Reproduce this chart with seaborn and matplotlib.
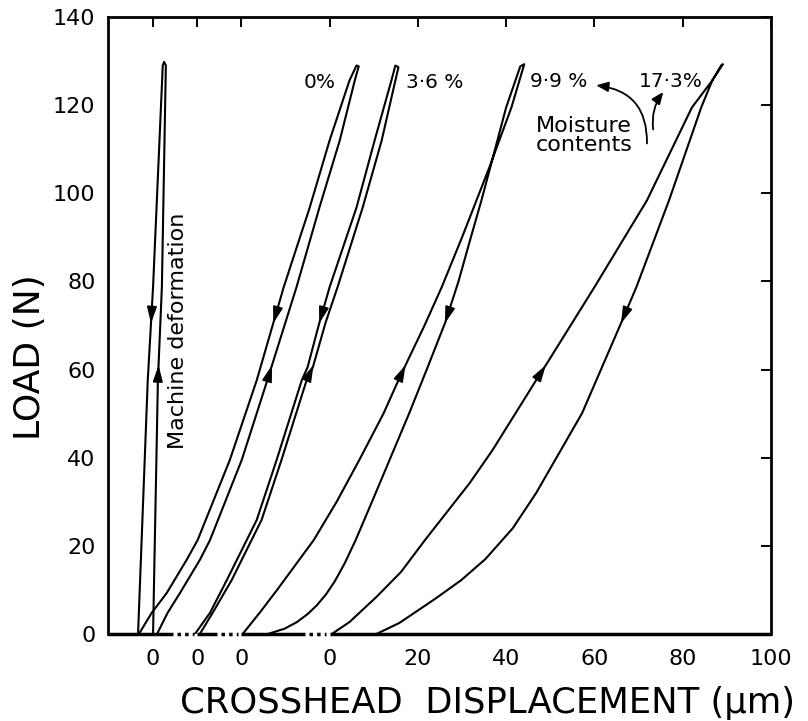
import numpy as np
import pandas as pd
import matplotlib
matplotlib.use("Agg")
import matplotlib.pyplot as plt
import seaborn as sns

# load / unload branches (displacement in um, load in N)
# each branch runs from zero load up to the tip of the loop
machine_load_x = [-40.0, -38.9, -38.0, -37.1]
machine_load_y = [0, 57.6, 78.7, 129.0]
machine_unload_x = [-43.4, -41.2, -40.0, -37.8]
machine_unload_y = [0, 57.6, 78.7, 129.0]
machine_tip = (-37.5, 129.8)

dry_load_x = [-39.1, -36.7, -33.9, -29.4, -27.1, -19.9, -14.1, -12.7, -7.5, -2.3, 2.3, 5.7, 6.6]
dry_load_y = [0, 4.8, 9.3, 16.8, 21.3, 39.5, 57.6, 62.1, 78.7, 96.8, 112.0, 125.6, 128.8]
dry_unload_x = [-43.2, -40.3, -36.9, -32.4, -29.9, -22.6, -16.5, -15.2, -10.4, -4.5, 0.0, 4.5, 6.1]
dry_unload_y = [0, 4.8, 9.3, 16.8, 21.3, 39.5, 57.6, 62.1, 78.7, 96.8, 112.0, 125.6, 129.0]

mc36_load_x = [-29.4, -26.5, -22.2, -15.4, -10.9, -5.2, -3.8, -0.9, 1.8, 7.5, 11.8, 14.9, 15.6]
mc36_load_y = [0, 4.8, 12.2, 25.9, 39.5, 57.6, 60.5, 70.7, 78.7, 96.8, 112.0, 125.6, 128.6]
mc36_unload_x = [-30.5, -27.1, -23.3, -16.5, -12.0, -6.3, -5.0, -2.3, 0.0, 6.1, 10.2, 14.0, 14.9]
mc36_unload_y = [0, 4.8, 12.2, 25.9, 39.5, 57.6, 60.5, 70.7, 78.7, 96.8, 112.0, 125.6, 129.0]

mc99_load_x = [-19.7, -15.7, -11.9, -3.6, 1.6, 7.0, 12.2, 15.6, 17.2, 21.5, 25.4, 30.0, 36.2, 41.2, 44.1]
mc99_load_y = [0, 5, 10, 21.3, 30, 40, 50, 57.6, 61, 70, 78.7, 90, 105.9, 119.5, 129.3]
mc99_unload_x = [-14.0, -10.2, -7.4, -5.0, -2.9, -0.8, 1.2, 3.4, 5.9, 9.6, 13.8, 18.0, 22.0,
                 26.2, 29.2, 32.0, 34.4, 36.4, 40.0, 43.2]
mc99_unload_y = [0, 1.2, 2.7, 4.5, 6.5, 9.0, 12.0, 16.0, 21.3, 30, 40, 50, 60,
                 70.7, 80, 90, 98.4, 105.9, 119.5, 128.8]

mc173_load_x = [0.5, 4.5, 10.6, 16.2, 21.6, 31.7, 36.9, 46.8, 49.3, 60.0, 71.9, 82.1, 86.7, 88.7]
mc173_load_y = [0, 2.7, 8.4, 14.1, 21.3, 34.2, 41.7, 57.6, 61.5, 78.7, 98.4, 119.5, 125.6, 129.0]
mc173_unload_x = [10.6, 15.8, 23.8, 29.8, 35.3, 41.5, 46.8, 57.2, 66.1, 69.5, 76.9, 84.2, 86.7, 89.1]
mc173_unload_y = [0, 2.5, 7.9, 12.2, 17.0, 24.0, 32.0, 50.1, 70.7, 78.7, 98.4, 119.5, 125.6, 129.3]

# shifted zeros of the displacement axis, then the true scale
origins = [-40, -30, -20, 0]
scale_ticks = [20, 40, 60, 80, 100]
tick_labels = ["0", "0", "0", "0", "20", "40", "60", "80", "100"]

moisture_labels = ["0%", "3·6 %", "9·9 %", "17·3%"]

curves = {
    "machine": (machine_load_x, machine_load_y, machine_unload_x, machine_unload_y),
    "0": (dry_load_x, dry_load_y, dry_unload_x, dry_unload_y),
    "3.6": (mc36_load_x, mc36_load_y, mc36_unload_x, mc36_unload_y),
    "9.9": (mc99_load_x, mc99_load_y, mc99_unload_x, mc99_unload_y),
    "17.3": (mc173_load_x, mc173_load_y, mc173_unload_x, mc173_unload_y),
}

rows = []
for name, (lx, ly, ux, uy) in curves.items():
    xs = list(lx)
    ys = list(ly)
    if name == "machine":
        xs.append(machine_tip[0])
        ys.append(machine_tip[1])
    xs += ux[::-1]
    ys += uy[::-1]
    for i, (x, y) in enumerate(zip(xs, ys)):
        rows.append({"curve": name, "order": i, "disp": x, "load": y})
df = pd.DataFrame(rows)

sns.set_style("white")
plt.rcParams["font.family"] = ["DejaVu Sans"]
plt.rcParams["text.color"] = "black"

fig = plt.figure(figsize=(8.08, 7.21), dpi=100)
ax = fig.add_axes([0.1337, 0.1207, 0.8205, 0.8557])

sns.lineplot(data=df, x="disp", y="load", units="curve", estimator=None,
             sort=False, color="black", linewidth=1.5, ax=ax, legend=False)

# direction arrows on each branch
def branch_arrow(xs, ys, y_head, up):
    dy = -3.5 if up else 3.5
    head = (np.interp(y_head, ys, xs), y_head)
    tail = (np.interp(y_head + dy, ys, xs), y_head + dy)
    ax.annotate("", xy=head, xytext=tail,
                arrowprops=dict(arrowstyle="-|>,head_length=1.0,head_width=0.3",
                                color="black", lw=1.2, shrinkA=0, shrinkB=0,
                                mutation_scale=10))

for name, (lx, ly, ux, uy) in curves.items():
    branch_arrow(ux, uy, 70.5, up=False)
    branch_arrow(lx, ly, 61.0, up=True)

ax.set_xlim(-50.2, 100)
ax.set_ylim(0, 140)
ax.set_xticks(origins + scale_ticks)
ax.set_xticklabels(tick_labels)
ax.set_yticks(range(0, 141, 20))
ax.set_xlabel("")
ax.set_ylabel("")
ax.tick_params(direction="in", top=True, right=True, length=7, width=1.4,
               labelsize=16, pad=9, color="black", labelcolor="black")
ax.tick_params(axis="x", pad=11)

for side in ["left", "right", "top"]:
    ax.spines[side].set_linewidth(2.0)
    ax.spines[side].set_color("black")
ax.spines["bottom"].set_visible(False)

# broken baseline: solid pieces, dotted before each shifted zero
xmin = ax.get_xlim()[0]
starts = [xmin] + origins[1:]
ends = [z - 5.5 for z in origins[1:]] + [100]
for a, b in zip(starts, ends):
    ax.plot([a, b], [0, 0], color="black", lw=2.5, clip_on=False,
            solid_capstyle="butt")
for z in origins[1:]:
    ax.plot([z - 4.6, z - 0.8], [0, 0], color="black", lw=2.5, clip_on=False,
            linestyle=(0, (1, 1.2)))

# labels of the loops
label_pos = [(-2.3, 125.2), (23.8, 125.2), (52.0, 125.4), (77.4, 125.4)]
for txt, (x, y) in zip(moisture_labels, label_pos):
    ax.text(x, y, txt, fontsize=14.5, ha="center", va="center")

ax.text(-34.4, 68.7, "Machine deformation", rotation=90, fontsize=16,
        ha="center", va="center")
ax.text(57.7, 113.2, "Moisture\ncontents", fontsize=16, ha="center",
        va="center", linespacing=0.95)

ax.annotate("", xy=(60.4, 124.5), xytext=(71.9, 111.3),
            arrowprops=dict(arrowstyle="-|>,head_length=0.6,head_width=0.25",
                            color="black", lw=1.3, shrinkA=0, shrinkB=0,
                            connectionstyle="arc3,rad=0.45", mutation_scale=12))
ax.annotate("", xy=(75.6, 123.0), xytext=(73.3, 114.5),
            arrowprops=dict(arrowstyle="-|>,head_length=0.6,head_width=0.25",
                            color="black", lw=1.3, shrinkA=0, shrinkB=0,
                            connectionstyle="arc3,rad=-0.2", mutation_scale=12))

fig.text(487 / 808, 1 - 703 / 721, "CROSSHEAD  DISPLACEMENT (µm)", fontsize=25.5,
         ha="center", va="center")
fig.text(30 / 808, 1 - 357 / 721, "LOAD (N)", fontsize=26, rotation=90,
         ha="center", va="center")

fig.savefig("out.png", dpi=100, facecolor="white")
